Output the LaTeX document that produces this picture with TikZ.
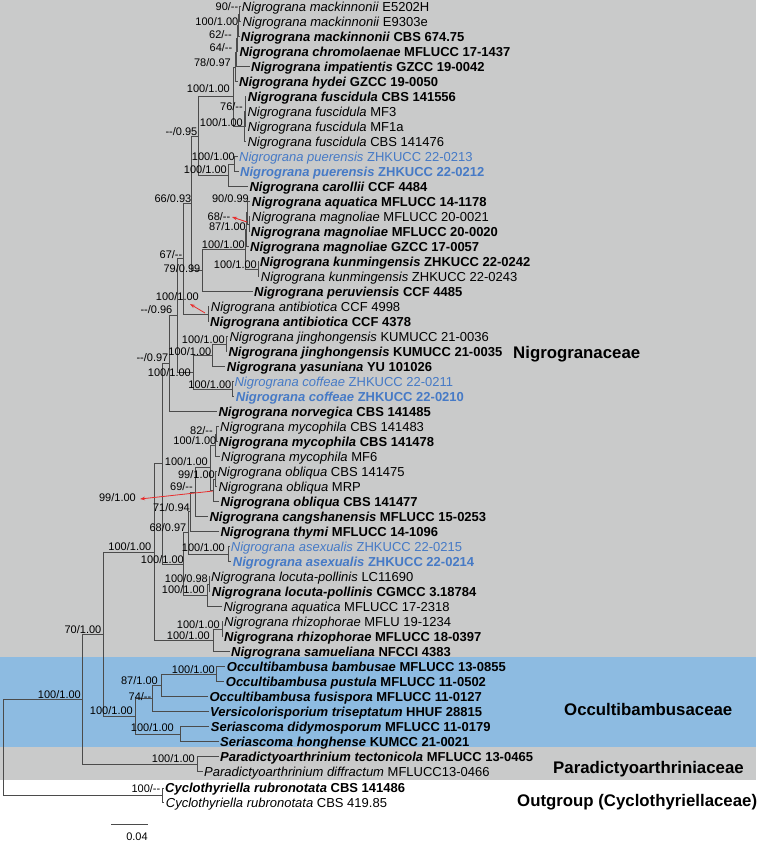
\documentclass[tikz,border=0pt]{standalone}
\usepackage{fontspec}
\setmainfont{Liberation Sans}
\usetikzlibrary{arrows.meta}
\definecolor{bggray}{RGB}{201,202,202}
\definecolor{bgblue}{RGB}{141,187,225}
\definecolor{brcol}{RGB}{75,75,75}
\definecolor{newblue}{RGB}{70,122,198}
\definecolor{arrred}{RGB}{232,45,45}
\newcommand{\tr}[2]{\textit{#1} #2}
\newcommand{\tb}[2]{\textbf{\textit{#1} #2}}
\newcommand{\dd}{\mbox{-}\mbox{-}}
\begin{document}
\begin{tikzpicture}[x=1pt,y=-1pt,
  tip/.style={anchor=west,inner xsep=1.5pt,inner ysep=0pt,font=\fontsize{13}{13}\selectfont,text height=9.3pt,text depth=0pt},
  nb/.style={tip,text=newblue},
  sup/.style={anchor=east,inner sep=0pt,font=\fontsize{11}{11}\selectfont,text height=7.9pt,text depth=0pt},
  clade/.style={anchor=west,inner sep=0pt,font=\fontsize{16.8}{17}\selectfont\bfseries,text height=12pt,text depth=0pt},
  br/.style={draw=brcol,line width=0.85pt},
  redarr/.style={draw=arrred,line width=0.8pt,-{Stealth[length=5pt,width=3.5pt]}}]
\useasboundingbox (0,0) rectangle (756,842);
\fill[bggray] (0,0) rectangle (756,657);
\fill[bgblue] (0,657) rectangle (756,747);
\fill[bggray] (0,747) rectangle (756,780);
% tips
\node[tip] (t1) at (240.2,6.5) {\tr{Nigrograna mackinnonii}{E5202H}};
\node[tip] (t2) at (240.8,21.5) {\tr{Nigrograna mackinnonii}{E9303e}};
\node[tip] (t3) at (239.2,36.5) {\tb{Nigrograna mackinnonii}{CBS 674.75}};
\node[tip] (t4) at (237.8,51.5) {\tb{Nigrograna chromolaenae}{MFLUCC 17-1437}};
\node[tip] (t5) at (249.5,66.5) {\tb{Nigrograna impatientis}{GZCC 19-0042}};
\node[tip] (t6) at (237.5,81.5) {\tb{Nigrograna hydei}{GZCC 19-0050}};
\node[tip] (t7) at (246.2,96.5) {\tb{Nigrograna fuscidula}{CBS 141556}};
\node[tip] (t8) at (245.8,111.5) {\tr{Nigrograna fuscidula}{MF3}};
\node[tip] (t9) at (245.8,126.5) {\tr{Nigrograna fuscidula}{MF1a}};
\node[tip] (t10) at (245.8,141.5) {\tr{Nigrograna fuscidula}{CBS 141476}};
\node[nb] (t11) at (237.5,156.5) {\tr{Nigrograna puerensis}{ZHKUCC 22-0213}};
\node[nb] (t12) at (238.5,171.5) {\tb{Nigrograna puerensis}{ZHKUCC 22-0212}};
\node[tip] (t13) at (247.8,186.5) {\tb{Nigrograna carollii}{CCF 4484}};
\node[tip] (t14) at (250.2,201.5) {\tb{Nigrograna aquatica}{MFLUCC 14-1178}};
\node[tip] (t15) at (250.2,216.5) {\tr{Nigrograna magnoliae}{MFLUCC 20-0021}};
\node[tip] (t16) at (249.2,231.5) {\tb{Nigrograna magnoliae}{MFLUCC 20-0020}};
\node[tip] (t17) at (248.5,246.5) {\tb{Nigrograna magnoliae}{GZCC 17-0057}};
\node[tip] (t18) at (258.5,261.5) {\tb{Nigrograna kunmingensis}{ZHKUCC 22-0242}};
\node[tip] (t19) at (259.2,276.5) {\tr{Nigrograna kunmingensis}{ZHKUCC 22-0243}};
\node[tip] (t20) at (252.5,291.5) {\tb{Nigrograna peruviensis}{CCF 4485}};
\node[tip] (t21) at (209.2,306.5) {\tr{Nigrograna antibiotica}{CCF 4998}};
\node[tip] (t22) at (208.5,321.5) {\tb{Nigrograna antibiotica}{CCF 4378}};
\node[tip] (t23) at (227.8,336.5) {\tr{Nigrograna jinghongensis}{KUMUCC 21-0036}};
\node[tip] (t24) at (226.8,351.5) {\tb{Nigrograna jinghongensis}{KUMUCC 21-0035}};
\node[tip] (t25) at (225.2,366.5) {\tb{Nigrograna yasuniana}{YU 101026}};
\node[nb] (t26) at (232.8,381.5) {\tr{Nigrograna coffeae}{ZHKUCC 22-0211}};
\node[nb] (t27) at (234.2,396.5) {\tb{Nigrograna coffeae}{ZHKUCC 22-0210}};
\node[tip] (t28) at (216.8,411.5) {\tb{Nigrograna norvegica}{CBS 141485}};
\node[tip] (t29) at (218.5,426.5) {\tr{Nigrograna mycophila}{CBS 141483}};
\node[tip] (t30) at (217.2,441.5) {\tb{Nigrograna mycophila}{CBS 141478}};
\node[tip] (t31) at (219.5,456.5) {\tr{Nigrograna mycophila}{MF6}};
\node[tip] (t32) at (215.8,471.5) {\tr{Nigrograna obliqua}{CBS 141475}};
\node[tip] (t33) at (216.8,486.5) {\tr{Nigrograna obliqua}{MRP}};
\node[tip] (t34) at (218.8,501.5) {\tb{Nigrograna obliqua}{CBS 141477}};
\node[tip] (t35) at (207.8,516.5) {\tb{Nigrograna cangshanensis}{MFLUCC 15-0253}};
\node[tip] (t36) at (218.8,531.5) {\tb{Nigrograna thymi}{MFLUCC 14-1096}};
\node[nb] (t37) at (229.2,546.5) {\tr{Nigrograna asexualis}{ZHKUCC 22-0215}};
\node[nb] (t38) at (231.2,561.5) {\tb{Nigrograna asexualis}{ZHKUCC 22-0214}};
\node[tip] (t39) at (209.5,576.5) {\tr{Nigrograna locuta-pollinis}{LC11690}};
\node[tip] (t40) at (210.2,591.5) {\tb{Nigrograna locuta-pollinis}{CGMCC 3.18784}};
\node[tip] (t41) at (221.8,606.5) {\tr{Nigrograna aquatica}{MFLUCC 17-2318}};
\node[tip] (t42) at (222.5,621.5) {\tr{Nigrograna rhizophorae}{MFLU 19-1234}};
\node[tip] (t43) at (222.5,636.5) {\tb{Nigrograna rhizophorae}{MFLUCC 18-0397}};
\node[tip] (t44) at (229.5,651.5) {\tb{Nigrograna samueliana}{NFCCI 4383}};
\node[tip] (t45) at (225.2,666.5) {\tb{Occultibambusa bambusae}{MFLUCC 13-0855}};
\node[tip] (t46) at (224.2,681.5) {\tb{Occultibambusa pustula}{MFLUCC 11-0502}};
\node[tip] (t47) at (207.8,696.5) {\tb{Occultibambusa fusispora}{MFLUCC 11-0127}};
\node[tip] (t48) at (208.5,711.5) {\tb{Versicolorisporium triseptatum}{HHUF 28815}};
\node[tip] (t49) at (209.2,726.5) {\tb{Seriascoma didymosporum}{MFLUCC 11-0179}};
\node[tip] (t50) at (218.5,741.5) {\tb{Seriascoma honghense}{KUMCC 21-0021}};
\node[tip] (t51) at (218.5,756.5) {\tb{Paradictyoarthrinium tectonicola}{MFLUCC 13-0465}};
\node[tip] (t52) at (202.5,771.5) {\tr{Paradictyoarthrinium diffractum}{MFLUCC13-0466}};
\node[tip] (t53) at (163.5,788) {\tb{Cyclothyriella rubronotata}{CBS 141486}};
\node[tip] (t54) at (164.2,802.5) {\tr{Cyclothyriella rubronotata}{CBS 419.85}};
% internal nodes
\coordinate (n90) at (239.5,14);
\coordinate (n100a) at (238.5,25.25);
\coordinate (n62) at (237.3,38.4);
\coordinate (n64) at (236.5,52.4);
\coordinate (n78) at (235.5,67);
\coordinate (nF1) at (245.3,111.5);
\coordinate (nF) at (244.3,126.5);
\coordinate (nMF) at (233,96.75);
\coordinate (nPu) at (234.5,164);
\coordinate (nPC) at (228,175.25);
\coordinate (n095) at (198,136);
\coordinate (nM68) at (249,224);
\coordinate (nAq) at (247.5,212.75);
\coordinate (nQ) at (246.5,229.6);
\coordinate (nK) at (258,269);
\coordinate (nQK) at (245,249.3);
\coordinate (nP) at (202,270.4);
\coordinate (n66) at (191.5,203.2);
\coordinate (nAnt) at (208,314);
\coordinate (n67) at (183.5,258.6);
\coordinate (nJ) at (226,344);
\coordinate (nJY) at (212,355.25);
\coordinate (nCo) at (232.5,389);
\coordinate (nJC) at (193,372.1);
\coordinate (n096) at (177,315.4);
\coordinate (n097) at (169,363.4);
\coordinate (nMy82) at (216.8,434);
\coordinate (nMy) at (215,445.25);
\coordinate (nOb99) at (215.5,479);
\coordinate (nOb) at (213.5,490.25);
\coordinate (nMO) at (210,467.75);
\coordinate (n69) at (195,492.1);
\coordinate (n71) at (190,511.8);
\coordinate (nAs) at (228.5,554);
\coordinate (n68b) at (188,532.9);
\coordinate (nLP) at (209,584);
\coordinate (nLA) at (207,595.25);
\coordinate (n183) at (183,564.1);
\coordinate (n162) at (162,463.75);
\coordinate (nRh) at (222,629);
\coordinate (nRS) at (213,640.25);
\coordinate (n154) at (154,552);
\coordinate (nOB) at (216,674);
\coordinate (n87) at (161,685.25);
\coordinate (n74) at (152,698.4);
\coordinate (nSe) at (180,734);
\coordinate (nOcc) at (135,716.2);
\coordinate (nB) at (103,634.1);
\coordinate (nPa) at (197,764);
\coordinate (nA) at (82,699);
\coordinate (nCy) at (162,795.25);
\coordinate (root) at (3,747);
% branches
\foreach \p/\c in {n90/t1.west,n90/t2.west,n100a/n90,n100a/t3.west,n62/n100a,n62/t4.west,
  n64/n62,n64/t5.west,n78/n64,n78/t6.west,nF1/t7.west,nF1/t8.west,nF1/t9.west,nF/nF1,nF/t10.west,
  nMF/n78,nMF/nF,nPu/t11.west,nPu/t12.west,nPC/nPu,nPC/t13.west,n095/nMF,n095/nPC,
  nM68/t15.west,nM68/t16.west,nAq/t14.west,nAq/nM68,nQ/nAq,nQ/t17.west,nK/t18.west,nK/t19.west,
  nQK/nQ,nQK/nK,nP/nQK,nP/t20.west,n66/n095,n66/nP,nAnt/t21.west,nAnt/t22.west,n67/n66,n67/nAnt,
  nJ/t23.west,nJ/t24.west,nJY/nJ,nJY/t25.west,nCo/t26.west,nCo/t27.west,nJC/nJY,nJC/nCo,
  n096/n67,n096/nJC,n097/n096,n097/t28.west,nMy82/t29.west,nMy82/t30.west,nMy/nMy82,nMy/t31.west,
  nOb99/t32.west,nOb99/t33.west,nOb/nOb99,nOb/t34.west,nMO/nMy,nMO/nOb,n69/nMO,n69/t35.west,
  n71/n69,n71/t36.west,nAs/t37.west,nAs/t38.west,n68b/n71,n68b/nAs,nLP/t39.west,nLP/t40.west,
  nLA/nLP,nLA/t41.west,n183/n68b,n183/nLA,n162/n097,n162/n183,nRh/t42.west,nRh/t43.west,
  nRS/nRh,nRS/t44.west,n154/n162,n154/nRS,nOB/t45.west,nOB/t46.west,n87/nOB,n87/t47.west,
  n74/n87,n74/t48.west,nSe/t49.west,nSe/t50.west,nOcc/n74,nOcc/nSe,nB/n154,nB/nOcc,
  nPa/t51.west,nPa/t52.west,nA/nB,nA/nPa,nCy/t53.west,nCy/t54.west,root/nA,root/nCy}
  {\draw[br] (\p) |- (\c);}
% support values
\node[sup] (s1) at (238.5,7) {90/\dd};
\node[sup] (s2) at (238.5,22) {100/1.00};
\node[sup] (s3) at (232,35) {62/\dd};
\node[sup] (s4) at (232.5,47.5) {64/\dd};
\node[sup] (s5) at (231,63) {78/0.97};
\node[sup] (s6) at (230,89) {100/1.00};
\node[sup] (s7) at (243,107) {76/\dd};
\node[sup] (s8) at (243,123) {100/1.00};
\node[sup] (s9) at (197.5,132) {\dd/0.95};
\node[sup] (s10) at (235,157) {100/1.00};
\node[sup] (s11) at (227,170) {100/1.00};
\node[sup] (s12) at (191.5,199) {66/0.93};
\node[sup] (s13) at (249,199) {90/0.99};
\node[sup] (s14) at (230.5,217) {68/\dd};
\node[sup] (s15) at (246,227) {87/1.00};
\node[sup] (s16) at (245,245) {100/1.00};
\node[sup] (s17) at (257,265) {100/1.00};
\node[sup] (s18) at (182.5,255) {67/\dd};
\node[sup] (s19) at (200.5,269) {79/0.99};
\node[sup] (s20) at (199,297) {100/1.00};
\node[sup] (s21) at (172.5,310) {\dd/0.96};
\node[sup] (s22) at (225,340) {100/1.00};
\node[sup] (s23) at (211.5,351.5) {100/1.00};
\node[sup] (s24) at (168.5,358) {\dd/0.97};
\node[sup] (s25) at (191,373) {100/1.00};
\node[sup] (s26) at (231.5,385) {100/1.00};
\node[sup] (s27) at (213,431) {82/\dd};
\node[sup] (s28) at (216.5,441) {100/1.00};
\node[sup] (s29) at (208,462) {100/1.00};
\node[sup] (s30) at (215,475) {99/1.00};
\node[sup] (s31) at (193,487) {69/\dd};
\node[sup] (s32) at (136,498) {99/1.00};
\node[sup] (s33) at (190,508) {71/0.94};
\node[sup] (s34) at (186.5,528) {68/0.97};
\node[sup] (s35) at (225,548) {100/1.00};
\node[sup] (s36) at (151.5,547) {100/1.00};
\node[sup] (s37) at (184,560) {100/1.00};
\node[sup] (s38) at (208,579) {100/0.98};
\node[sup] (s39) at (205,590) {100/1.00};
\node[sup] (s40) at (220,625) {100/1.00};
\node[sup] (s41) at (210,636) {100/1.00};
\node[sup] (s42) at (101.5,630) {70/1.00};
\node[sup] (s43) at (215,670) {100/1.00};
\node[sup] (s44) at (158,681) {87/1.00};
\node[sup] (s45) at (81,695) {100/1.00};
\node[sup] (s46) at (151.5,696.5) {74/\dd};
\node[sup] (s47) at (133,711) {100/1.00};
\node[sup] (s48) at (174,728) {100/1.00};
\node[sup] (s49) at (195,759) {100/1.00};
\node[sup] (s50) at (160.5,789) {100/\dd};
% red arrows
\coordinate (a1) at (247,222);
\coordinate (a2) at (205,313);
\coordinate (a3) at (213,491);
\draw[redarr] (a1) -- ([xshift=1.5pt]s14.east);
\draw[redarr] (a2) -- ([xshift=-9pt,yshift=-7pt]s20.east);
\draw[redarr] (a3) -- ([xshift=4pt,yshift=-1pt]s32.east);
% clade labels
\node[clade] (c1) at (513,352) {Nigrogranaceae};
\node[clade] (c2) at (564,709) {Occultibambusaceae};
\node[clade] (c3) at (553,767) {Paradictyoarthriniaceae};
\node[clade] (c4) at (517,800) {Outgroup (Cyclothyriellaceae)};
% scale bar
\coordinate (sb1) at (111,824);
\coordinate (sb2) at (148,824);
\draw[br] (sb1) -- (sb2);
\node[sup,anchor=center] (sbl) at (137,837) {0.04};
\end{tikzpicture}
\end{document}
